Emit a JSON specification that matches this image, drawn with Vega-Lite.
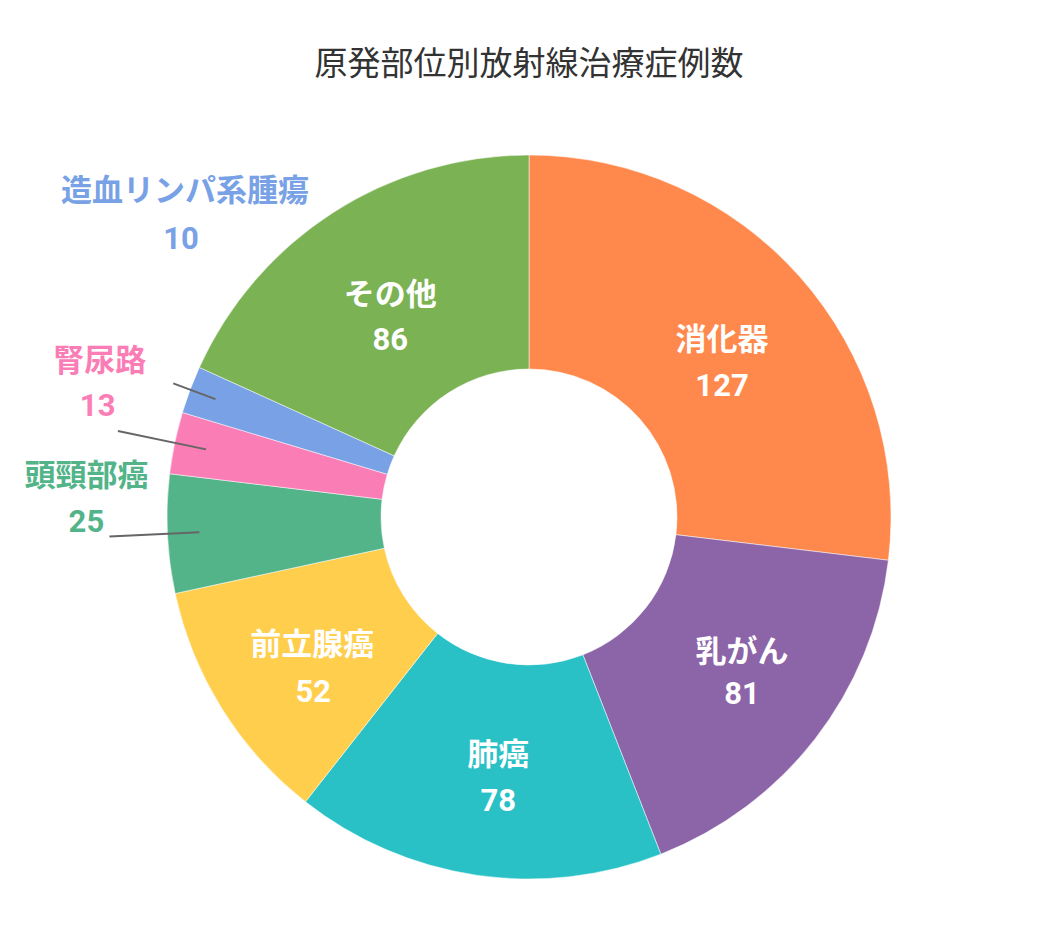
{
  "$schema": "https://vega.github.io/schema/vega-lite/v6.json",
  "width": 1058,
  "height": 800,
  "padding": {"left": 0, "right": 0, "top": 49, "bottom": 0},
  "background": "white",
  "title": {"text": "原発部位別放射線治療症例数", "fontSize": 33, "font": "Noto Sans CJK JP", "fontWeight": "normal", "color": "#333333", "offset": 35, "anchor": "middle"},
  "view": {"stroke": null},
  "datasets": {"cases": [
    {"cat": "消化器", "value": 127, "i": 1},
    {"cat": "乳がん", "value": 81, "i": 2},
    {"cat": "肺癌", "value": 78, "i": 3},
    {"cat": "前立腺癌", "value": 52, "i": 4},
    {"cat": "頭頸部癌", "value": 25, "i": 5},
    {"cat": "腎尿路", "value": 13, "i": 6},
    {"cat": "造血リンパ系腫瘍", "value": 10, "i": 7},
    {"cat": "その他", "value": 86, "i": 8}
  ]},
  "data": {"name": "cases"},
  "transform": [
    {"stack": "value", "groupby": [], "sort": [{"field": "i", "order": "ascending"}], "as": ["s0", "s1"]},
    {"calculate": "(datum.s0 + datum.s1) / 2", "as": "mid"}
  ],
  "encoding": {
    "theta": {"field": "mid", "type": "quantitative", "stack": null, "scale": {"domain": [0, 472]}},
    "color": {"field": "cat", "type": "nominal", "legend": null,
      "scale": {"domain": ["消化器", "乳がん", "肺癌", "前立腺癌", "頭頸部癌", "腎尿路", "造血リンパ系腫瘍", "その他"],
                "range": ["#FF894C", "#8C64A8", "#29C1C6", "#FFCE4C", "#52B488", "#FA7DB6", "#78A1E6", "#7BB254"]}}
  },
  "layer": [
    {"mark": {"type": "arc", "innerRadius": 148, "outerRadius": 362, "stroke": "white", "strokeWidth": 0.5},
     "encoding": {"theta": {"field": "s0", "type": "quantitative", "stack": null}, "theta2": {"field": "s1"}}},
    {"transform": [{"filter": "datum.cat === '消化器'"}],
     "layer": [
       {"mark": {"type": "text", "radius": 258, "dy": -5, "font": "Roboto, 'Noto Sans CJK JP'", "fontSize": 31, "fontWeight": "bold", "baseline": "middle", "align": "center"},
        "encoding": {"color": {"value": "white"}, "text": {"field": "cat", "type": "nominal"}}},
       {"mark": {"type": "text", "radius": 258, "dy": 41, "font": "Roboto, 'Noto Sans CJK JP'", "fontSize": 31, "fontWeight": "bold", "baseline": "middle", "align": "center"},
        "encoding": {"color": {"value": "white"}, "text": {"field": "value", "type": "quantitative"}}}
     ]},
    {"transform": [{"filter": "datum.cat === '乳がん'"}],
     "layer": [
       {"mark": {"type": "text", "radius": 258, "dx": 9, "dy": -22, "font": "Roboto, 'Noto Sans CJK JP'", "fontSize": 31, "fontWeight": "bold", "baseline": "middle", "align": "center"},
        "encoding": {"color": {"value": "white"}, "text": {"field": "cat", "type": "nominal"}}},
       {"mark": {"type": "text", "radius": 258, "dx": 9, "dy": 20, "font": "Roboto, 'Noto Sans CJK JP'", "fontSize": 31, "fontWeight": "bold", "baseline": "middle", "align": "center"},
        "encoding": {"color": {"value": "white"}, "text": {"field": "value", "type": "quantitative"}}}
     ]},
    {"transform": [{"filter": "datum.cat === '肺癌'"}],
     "layer": [
       {"mark": {"type": "text", "radius": 258, "dx": 7, "dy": -16, "font": "Roboto, 'Noto Sans CJK JP'", "fontSize": 31, "fontWeight": "bold", "baseline": "middle", "align": "center"},
        "encoding": {"color": {"value": "white"}, "text": {"field": "cat", "type": "nominal"}}},
       {"mark": {"type": "text", "radius": 258, "dx": 7, "dy": 30, "font": "Roboto, 'Noto Sans CJK JP'", "fontSize": 31, "fontWeight": "bold", "baseline": "middle", "align": "center"},
        "encoding": {"color": {"value": "white"}, "text": {"field": "value", "type": "quantitative"}}}
     ]},
    {"transform": [{"filter": "datum.cat === '前立腺癌'"}],
     "layer": [
       {"mark": {"type": "text", "radius": 258, "dx": 2, "dy": -8, "font": "Roboto, 'Noto Sans CJK JP'", "fontSize": 31, "fontWeight": "bold", "baseline": "middle", "align": "center"},
        "encoding": {"color": {"value": "white"}, "text": {"field": "cat", "type": "nominal"}}},
       {"mark": {"type": "text", "radius": 258, "dx": 3, "dy": 39, "font": "Roboto, 'Noto Sans CJK JP'", "fontSize": 31, "fontWeight": "bold", "baseline": "middle", "align": "center"},
        "encoding": {"color": {"value": "white"}, "text": {"field": "value", "type": "quantitative"}}}
     ]},
    {"transform": [{"filter": "datum.cat === 'その他'"}],
     "layer": [
       {"mark": {"type": "text", "radius": 258, "dx": 1, "dy": -4, "font": "Roboto, 'Noto Sans CJK JP'", "fontSize": 31, "fontWeight": "bold", "baseline": "middle", "align": "center"},
        "encoding": {"color": {"value": "white"}, "text": {"field": "cat", "type": "nominal"}}},
       {"mark": {"type": "text", "radius": 258, "dx": 1, "dy": 41, "font": "Roboto, 'Noto Sans CJK JP'", "fontSize": 31, "fontWeight": "bold", "baseline": "middle", "align": "center"},
        "encoding": {"color": {"value": "white"}, "text": {"field": "value", "type": "quantitative"}}}
     ]},
    {"transform": [{"filter": "datum.cat === '頭頸部癌' || datum.cat === '腎尿路'"}],
     "mark": {"type": "arc", "radius": 420, "radius2": 330, "stroke": "#666666", "strokeWidth": 2, "fill": null},
     "encoding": {"theta2": {"field": "mid"}, "color": {"value": "#666666"}}},
    {"transform": [{"filter": "datum.cat === '造血リンパ系腫瘍'"}],
     "mark": {"type": "arc", "radius": 380, "radius2": 335, "stroke": "#666666", "strokeWidth": 2, "fill": null},
     "encoding": {"theta2": {"field": "mid"}, "color": {"value": "#666666"}}},
    {"transform": [{"filter": "datum.cat === '頭頸部癌'"}],
     "layer": [
       {"mark": {"type": "text", "radius": 360, "dx": -83, "dy": -57, "font": "Roboto, 'Noto Sans CJK JP'", "fontSize": 31, "fontWeight": "bold", "baseline": "middle", "align": "center"},
        "encoding": {"text": {"field": "cat", "type": "nominal"}}},
       {"mark": {"type": "text", "radius": 360, "dx": -83, "dy": -11, "font": "Roboto, 'Noto Sans CJK JP'", "fontSize": 31, "fontWeight": "bold", "baseline": "middle", "align": "center"},
        "encoding": {"text": {"field": "value", "type": "quantitative"}}}
     ]},
    {"transform": [{"filter": "datum.cat === '腎尿路'"}],
     "layer": [
       {"mark": {"type": "text", "radius": 360, "dx": -77, "dy": -81, "font": "Roboto, 'Noto Sans CJK JP'", "fontSize": 31, "fontWeight": "bold", "baseline": "middle", "align": "center"},
        "encoding": {"text": {"field": "cat", "type": "nominal"}}},
       {"mark": {"type": "text", "radius": 360, "dx": -79, "dy": -36, "font": "Roboto, 'Noto Sans CJK JP'", "fontSize": 31, "fontWeight": "bold", "baseline": "middle", "align": "center"},
        "encoding": {"text": {"field": "value", "type": "quantitative"}}}
     ]},
    {"transform": [{"filter": "datum.cat === '造血リンパ系腫瘍'"}],
     "layer": [
       {"mark": {"type": "text", "radius": 360, "dx": -7, "dy": -198, "font": "Roboto, 'Noto Sans CJK JP'", "fontSize": 31, "fontWeight": "bold", "baseline": "middle", "align": "center"},
        "encoding": {"text": {"field": "cat", "type": "nominal"}}},
       {"mark": {"type": "text", "radius": 360, "dx": -11, "dy": -150, "font": "Roboto, 'Noto Sans CJK JP'", "fontSize": 31, "fontWeight": "bold", "baseline": "middle", "align": "center"},
        "encoding": {"text": {"field": "value", "type": "quantitative"}}}
     ]}
  ]
}
